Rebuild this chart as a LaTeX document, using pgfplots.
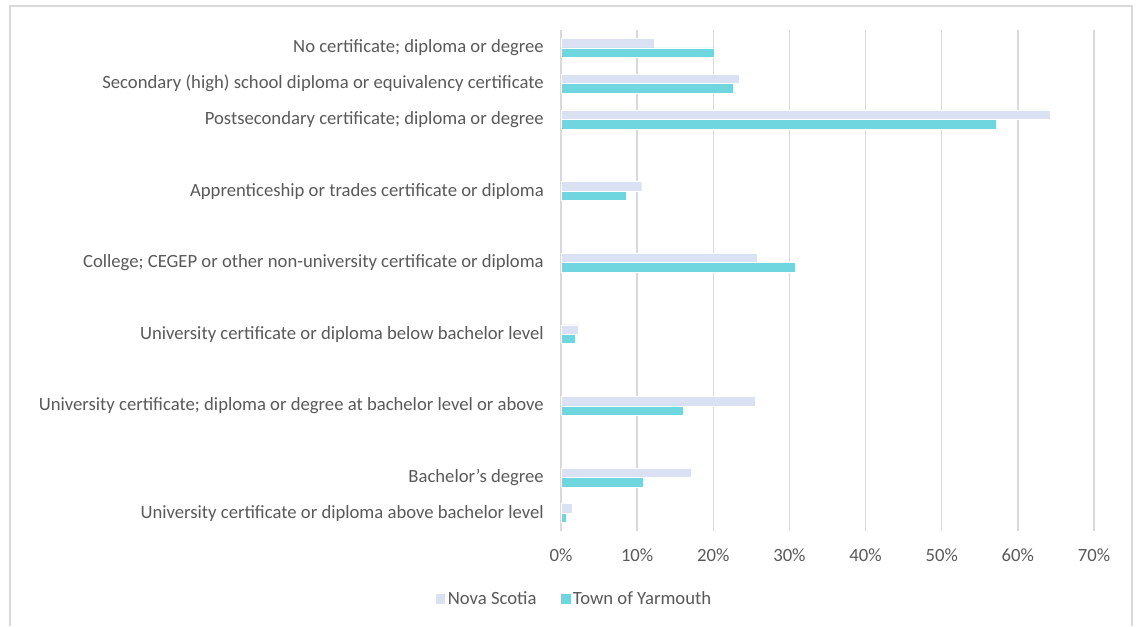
\documentclass[border=0pt]{standalone}
\usepackage{pgfplots}
\pgfplotsset{compat=1.18}
\usepackage{fontspec}
\setmainfont{Carlito}
\definecolor{nscol}{HTML}{D9E1F2}
\definecolor{tycol}{HTML}{6FD5DF}
\definecolor{txt}{HTML}{595959}
\definecolor{gridcol}{HTML}{D9D9D9}
\begin{document}
\begin{tikzpicture}
\fontsize{14}{16}\selectfont
% canvas: 1137 x 626 px, 1px = 0.75pt
\path (0,0) rectangle (852.75pt,469.5pt);
\draw[gridcol, line width=1pt] (7.5pt,0pt) -- (7.5pt,465pt) -- (849pt,465pt) -- (849pt,0pt);
\begin{axis}[
    scale only axis,
    at={(420.75pt,71.25pt)}, anchor=south west,
    width=399.75pt, height=375.75pt,
    xbar, bar width=7.1pt,
    xmin=0, xmax=70,
    ymin=-0.5, ymax=13.5,
    y dir=reverse,
    axis line style={draw=none},
    major tick length=0pt,
    xmajorgrids, ymajorgrids=false,
    grid style={draw=gridcol, line width=1.1pt},
    xtick={0,10,...,70},
    xticklabels={0\%,10\%,20\%,30\%,40\%,50\%,60\%,70\%},
    ytick={0,1,2,4,6,8,10,12,13},
    yticklabels={
        {No certificate; diploma or degree},
        {Secondary (high) school diploma or equivalency certificate},
        {Postsecondary certificate; diploma or degree},
        {Apprenticeship or trades certificate or diploma},
        {College; CEGEP or other non-university certificate or diploma},
        {University certificate or diploma below bachelor level},
        {University certificate; diploma or degree at bachelor level or above},
        {Bachelor's degree},
        {University certificate or diploma above bachelor level}},
    ticklabel style={font=\fontsize{14}{16}\selectfont, text=txt},
    yticklabel style={inner sep=0pt, xshift=-12.75pt},
    xticklabel style={inner sep=0pt, yshift=-13pt},
    legend columns=2,
    legend style={draw=none, at={(0.0244,-0.1357)}, anchor=center,
        font=\fontsize{14}{16}\selectfont, text=txt,
        /tikz/every even column/.append style={column sep=16pt},
        nodes={inner sep=1.5pt}},
    legend image code/.code={\fill[#1] (0pt,-4pt) rectangle (8pt,4pt);},
]
\addplot[draw=white, line width=0.3pt, fill=nscol, bar shift=3.55pt] coordinates {
    (12.2,0) (23.4,1) (64.3,2) (10.6,4) (25.8,6) (2.3,8) (25.5,10) (17.1,12) (1.5,13)
};
\addplot[draw=white, line width=0.3pt, fill=tycol, bar shift=-3.55pt] coordinates {
    (20.1,0) (22.6,1) (57.2,2) (8.6,4) (30.7,6) (1.9,8) (16.1,10) (10.8,12) (0.7,13)
};
\legend{Nova Scotia, Town of Yarmouth}
\end{axis}
\end{tikzpicture}
\end{document}
